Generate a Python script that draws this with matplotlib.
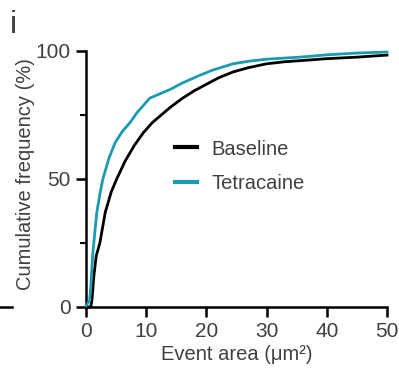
import matplotlib
matplotlib.use("Agg")
import matplotlib.pyplot as plt
from matplotlib.lines import Line2D
from matplotlib.ticker import MultipleLocator

# Cumulative distributions
baseline_x = [0, 0.8, 1.0, 1.3, 1.7, 2.3, 3.2, 4.2, 5.1, 6.5, 8, 9.5, 11, 12.5,
              14, 16, 18, 20, 22, 24.4, 27, 30, 33, 36, 40, 45, 50]
baseline_y = [0, 0, 3, 12, 20, 25, 37, 45, 50, 57, 63, 68, 72, 75,
              78, 81.5, 84.5, 87, 89.5, 91.8, 93.5, 95, 95.8, 96.3, 97, 97.6, 98.4]

tetra_x = [0, 0.6, 0.8, 1.1, 1.5, 1.8, 2.3, 2.8, 3.8, 4.8, 6, 7.3, 8.5, 10,
           10.6, 12, 14, 16, 18.9, 21, 24.4, 27, 30, 35.5, 40, 45, 50]
tetra_y = [0.5, 2.5, 8, 20, 30, 37, 44, 50, 58, 64, 68.5, 72, 76, 80,
           81.6, 83, 85, 87.5, 90.5, 92.5, 95, 96, 96.8, 97.6, 98.5, 99.2, 99.6]

labels = ["Baseline", "Tetracaine"]
colors = ["#000000", "#1a9bb0"]
text_color = "#404040"

plt.rcParams["font.family"] = ["Liberation Sans", "DejaVu Sans"]

fig = plt.figure(figsize=(3.99, 3.77), dpi=100)
ax = fig.add_axes([86 / 399, 1 - 307 / 377, 301 / 399, 256 / 377])

ax.plot(baseline_x, baseline_y, color=colors[0], lw=2.0, clip_on=False, zorder=3)
ax.plot(tetra_x, tetra_y, color=colors[1], lw=2.0, clip_on=False, zorder=4)

ax.set_xlim(0, 50)
ax.set_ylim(0, 100)

for side in ["top", "right"]:
    ax.spines[side].set_visible(False)
for side in ["left", "bottom"]:
    ax.spines[side].set_linewidth(1.8)

ax.xaxis.set_major_locator(MultipleLocator(10))
ax.yaxis.set_major_locator(MultipleLocator(50))
ax.yaxis.set_minor_locator(MultipleLocator(25))
ax.tick_params(axis="both", which="major", length=7, width=1.8,
               labelsize=15, labelcolor=text_color, pad=4)
ax.tick_params(axis="y", which="minor", length=4, width=1.5)

ax.set_xlabel("Event area (μm²)", fontsize=14.5, color=text_color, labelpad=3)
ax.set_ylabel("Cumulative frequency (%)", fontsize=14.5, color=text_color)
ax.yaxis.set_label_coords(-0.17, 0.52)

# legend
handles = [Line2D([0], [0], color=c, lw=3, label=l) for c, l in zip(colors, labels)]
leg = ax.legend(handles=handles, loc="upper left", bbox_to_anchor=(0.235, 0.725),
                frameon=False, fontsize=14.5, handlelength=1.1, handletextpad=0.7,
                labelspacing=0.75, labelcolor=text_color)

# panel letter and leftover tick from neighbouring panel
fig.text(10 / 399, 1 - 10 / 377, "i", fontsize=23, color=text_color, va="top")
fig.add_artist(Line2D([0, 12 / 399], [1 - 307 / 377] * 2, color="black", lw=1.8))

fig.savefig("out.png", dpi=100)
